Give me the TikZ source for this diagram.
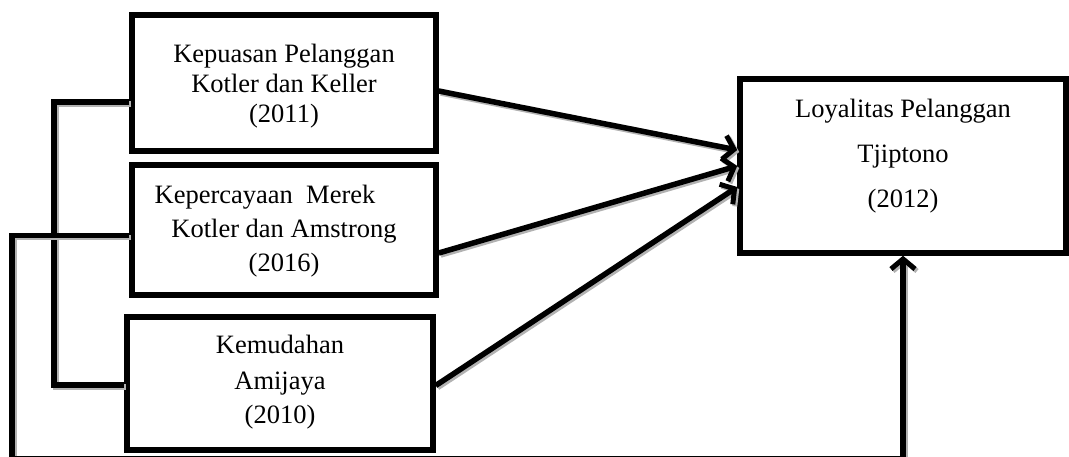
\documentclass[tikz,border=0pt]{standalone}
\usepackage{fontspec}
\setmainfont{Liberation Serif}
\usetikzlibrary{arrows.meta}
\tikzset{
  box/.style={draw, line width=5.5pt, inner sep=0pt, fill=white},
  txt/.style={anchor=base, inner sep=0pt, font=\fontsize{26.5}{30}\selectfont},
  conn/.style={line width=5.5pt, line join=miter,
    preaction={draw=gray!60, line width=5.5pt, transform canvas={shift={(2pt,-2pt)}}}},
  arr/.style={conn, -{Straight Barb[length=10pt,width=24pt,line width=5pt]}}
}
\begin{document}
\begin{tikzpicture}[x=1pt,y=-1pt]
\useasboundingbox (0,0) rectangle (1069,456);
% boxes
\node[box, minimum width=304pt, minimum height=136pt] (b1) at (284,83) {};
\node[box, minimum width=304pt, minimum height=130pt] (b2) at (284,230) {};
\node[box, minimum width=306pt, minimum height=133pt] (b3) at (280,383.5) {};
\node[box, minimum width=326pt, minimum height=174pt] (b4) at (903,166) {};
% texts
\node[txt] (t1a) at (284,62.5) {Kepuasan Pelanggan};
\node[txt] (t1b) at (284,92) {Kotler dan Keller};
\node[txt] (t1c) at (284,122) {(2011)};
\node[txt] (t2a) at (265,203) {Kepercayaan\ \ Merek};
\node[txt] (t2b) at (284,237) {Kotler dan Amstrong};
\node[txt] (t2c) at (284,271) {(2016)};
\node[txt] (t3a) at (280,353) {Kemudahan};
\node[txt] (t3b) at (280,389) {Amijaya};
\node[txt] (t3c) at (280,423) {(2010)};
\node[txt] (t4a) at (903,117) {Loyalitas Pelanggan};
\node[txt] (t4b) at (903,162) {Tjiptono};
\node[txt] (t4c) at (903,207) {(2012)};
% arrows to Loyalitas
\draw[arr] ([yshift=-8pt]b1.east) -- ([yshift=16pt]b4.west);
\draw[arr] ([yshift=-23pt]b2.east) -- (b4.west);
\draw[arr] ([yshift=-2pt]b3.east) -- ([yshift=-21pt]b4.west);
% inner connector
\coordinate (c1) at (54,102);
\coordinate (c2) at (54,385);
\draw[conn] ([yshift=-19pt]b1.west) -- (c1) -- (c2) -- ([yshift=-1.5pt]b3.west);
% outer connector
\coordinate (o1) at (12,235.5);
\coordinate (o2) at (12,458.5);
\coordinate (o3) at (903,458.5);
\draw[arr] ([yshift=-5.5pt]b2.west) -- (o1) -- (o2) -- (o3) -- (b4.south);
\end{tikzpicture}
\end{document}
